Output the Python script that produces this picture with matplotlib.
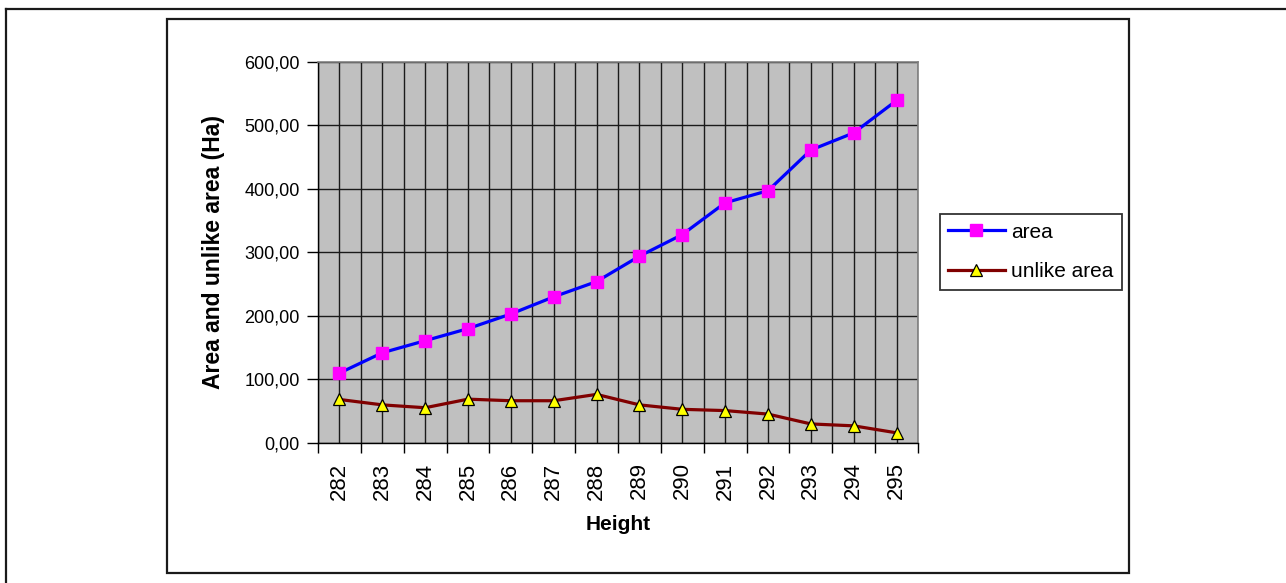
import matplotlib
matplotlib.use("Agg")
import matplotlib.pyplot as plt
import numpy as np
from matplotlib.patches import Rectangle
from matplotlib.lines import Line2D

plt.rcParams["font.family"] = ["Liberation Sans", "DejaVu Sans"]

# data
heights = ["282", "283", "284", "285", "286", "287", "288",
           "289", "290", "291", "292", "293", "294", "295"]
area = [110, 142, 161, 180, 203, 230, 254, 294, 328, 378, 397, 461, 488, 539]
unlike_area = [68.5, 60, 55.5, 69, 66.5, 66.5, 76.5, 60, 53, 51, 45.5, 30, 27, 16]
y_ticks = [0, 100, 200, 300, 400, 500, 600]

W, H = 1286, 583
fig = plt.figure(figsize=(W / 100, H / 100), dpi=100)

# chart frames (Excel style)
fig.add_artist(Line2D([6 / W, 1.0], [1 - 9 / H, 1 - 9 / H], color="#1a1a1a", lw=1.6))
fig.add_artist(Line2D([6 / W, 6 / W], [0, 1 - 9 / H], color="#1a1a1a", lw=1.6))
fig.add_artist(Rectangle((167 / W, 1 - 573 / H), (1129 - 167) / W, (573 - 19) / H,
                         fill=False, edgecolor="#1a1a1a", lw=1.6))

ax = fig.add_axes([318 / W, 1 - 443 / H, 600 / W, 381.3 / H])
ax.set_facecolor("#c0c0c0")

x = np.arange(len(heights))
ax.plot(x, area, color="#0000ff", lw=2.3, marker="s", markersize=9,
        markerfacecolor="#ff00ff", markeredgecolor="#ff00ff", label="area", zorder=3)
ax.plot(x, unlike_area, color="#800000", lw=2.3, marker="^", markersize=9,
        markerfacecolor="#ffff00", markeredgecolor="black", markeredgewidth=0.9,
        label="unlike area", zorder=3)

ax.set_xlim(-0.5, len(heights) - 0.5)
ax.set_ylim(y_ticks[0], y_ticks[-1])

# category boundaries carry tick marks, centres carry the labels
ax.set_xticks(np.arange(len(heights) + 1) - 0.5)
ax.set_xticklabels([])
ax.set_xticks(x, minor=True)
ax.set_xticklabels(heights, minor=True, rotation=90, fontsize=16)
ax.tick_params(axis="x", which="major", length=7, width=1, direction="out", color="black")
ax.tick_params(axis="x", which="minor", length=0, pad=14)
ax.set_yticks(y_ticks)
ax.set_yticklabels([f"{v:.2f}".replace(".", ",") for v in y_ticks], fontsize=13)
ax.tick_params(axis="y", length=8, width=1, direction="out", pad=5, color="black")

ax.grid(True, which="both", axis="x", color="#1a1a1a", lw=1.0)
ax.grid(True, which="major", axis="y", color="#1a1a1a", lw=1.0)
ax.set_axisbelow(True)

for side in ["top", "right"]:
    ax.spines[side].set_color("#808080")
    ax.spines[side].set_linewidth(1.2)
for side in ["left", "bottom"]:
    ax.spines[side].set_color("black")
    ax.spines[side].set_linewidth(1.0)

ax.set_xlabel("Height", fontsize=15, fontweight="bold", labelpad=11)
ax.set_ylabel("Area and unlike area (Ha)", fontsize=16.5, fontweight="bold", labelpad=14)

leg = ax.legend(loc="center left", bbox_to_anchor=(940 / W, 1 - 252 / H),
                bbox_transform=fig.transFigure, fontsize=15, frameon=True,
                fancybox=False, framealpha=1, edgecolor="#333333",
                handlelength=2.7, handletextpad=0.3, labelspacing=1.0,
                borderpad=0.4, borderaxespad=0)
leg.get_frame().set_linewidth(1.3)

fig.savefig("out.png", dpi=100)
